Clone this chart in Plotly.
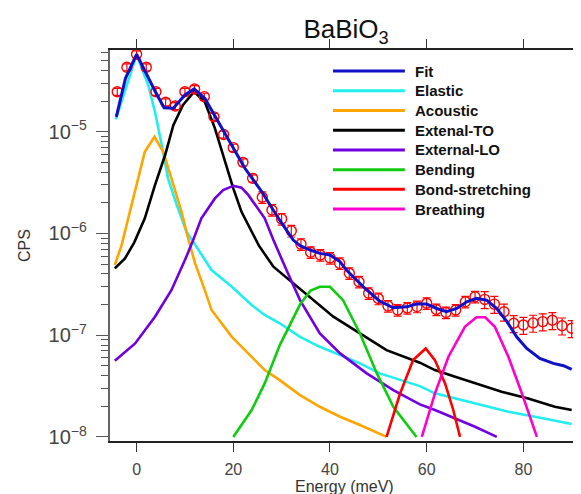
import plotly.graph_objects as go

# ---------------- data ----------------
data_E = [-4, -2, 0, 2, 4, 6, 8, 10, 12, 14, 16, 18, 20, 22, 24, 26, 28, 30, 32, 34,
          36, 38, 40, 42, 44, 46, 48, 50, 52, 54, 56, 58, 60, 62, 64, 66, 68, 70, 72, 74,
          76, 78, 80, 82, 84, 86, 88, 90]
data_cps = [2.47e-5, 4.30e-5, 5.77e-5, 4.30e-5, 2.47e-5, 1.95e-5, 1.79e-5, 2.47e-5, 2.63e-5, 2.21e-5,
            1.40e-5, 9.4e-6, 6.97e-6, 5.0e-6, 3.48e-6, 2.27e-6, 1.70e-6, 1.39e-6, 1.06e-6, 7.85e-7,
            6.53e-7, 6.14e-7, 5.75e-7, 5.08e-7, 4.06e-7, 3.35e-7, 2.58e-7, 2.29e-7, 1.94e-7, 1.77e-7,
            1.85e-7, 1.91e-7, 2.06e-7, 1.79e-7, 1.67e-7, 1.77e-7, 2.13e-7, 2.39e-7, 2.25e-7, 2.02e-7,
            1.70e-7, 1.31e-7, 1.26e-7, 1.32e-7, 1.36e-7, 1.40e-7, 1.24e-7, 1.17e-7]
data_err_pct = [8] * 15 + [13] * 23 + [19] * 10

fit_E = [-4.2, -2.3, 0, 1.8, 3.8, 5.7, 7.6, 10, 11.9, 14.1, 16.9, 19.7, 22.4, 25.9, 29.6, 32.4,
         33.8, 35.9, 37.9, 40, 42.1, 43.4, 44.8, 46.9, 50.3, 53.1, 55.9, 57.9, 60, 62.1, 64.1,
         66.2, 68.3, 70.3, 72.4, 74.5, 76.6, 78.6, 80.7, 83.4, 86.2, 88.3, 90]
fit_cps = [1.40e-5, 3.35e-5, 5.77e-5, 3.89e-5, 2.51e-5, 1.72e-5, 1.70e-5, 2.30e-5, 2.63e-5, 2.13e-5,
           1.25e-5, 7.40e-6, 4.37e-6, 2.57e-6, 1.35e-6, 8.61e-7, 7.59e-7, 6.87e-7, 6.37e-7, 6.14e-7,
           5.27e-7, 4.37e-7, 3.75e-7, 2.99e-7, 2.16e-7, 1.86e-7, 1.90e-7, 2.02e-7, 2.02e-7, 1.83e-7,
           1.70e-7, 1.83e-7, 2.13e-7, 2.30e-7, 2.21e-7, 1.83e-7, 1.36e-7, 9.64e-8, 7.41e-8, 5.92e-8,
           5.28e-8, 5.01e-8, 4.61e-8]

elastic_E = [-4.3, 0, 2.4, 3.8, 5.2, 6.5, 8.3, 10.3, 11.5, 15.5, 19.7, 23.8, 26.5, 29.6, 33.8,
             37.9, 42.1, 46.2, 50.3, 54.5, 58.6, 61.7, 65.9, 71.4, 76.9, 82.4, 90]
elastic_cps = [1.32e-5, 5.69e-5, 2.88e-5, 1.57e-5, 7.40e-6, 3.48e-6, 1.91e-6, 1.04e-6, 8.59e-7,
               4.37e-7, 2.99e-7, 1.98e-7, 1.58e-7, 1.31e-7, 9.64e-8, 7.69e-8, 6.37e-8, 5.28e-8,
               4.21e-8, 3.62e-8, 3.16e-8, 2.68e-8, 2.39e-8, 2.06e-8, 1.77e-8, 1.58e-8, 1.34e-8]

acoustic_E = [-4.5, -3.1, -1.4, 0.3, 1.7, 3.7, 5.5, 7.2, 9.3, 10.7, 12.1, 14.1, 15.5, 19.7, 23.1,
              26.5, 29.6, 33.8, 37.9, 42.1, 46.2, 51.7]
acoustic_cps = [4.90e-7, 7.69e-7, 1.63e-6, 3.48e-6, 6.35e-6, 8.91e-6, 6.35e-6, 3.48e-6, 1.63e-6,
                8.81e-7, 5.08e-7, 2.77e-7, 1.77e-7, 9.64e-8, 6.62e-8, 4.54e-8, 3.62e-8, 2.58e-8,
                1.98e-8, 1.58e-8, 1.31e-8, 1.0e-8]

to_E = [-4.5, -2.4, -0.5, 1.7, 3.8, 5.9, 7.6, 9.6, 11.9, 14.1, 16.2, 18.3, 20, 21.7, 23.8, 25.3,
        28.3, 32.4, 36.5, 40.7, 46.2, 51.7, 58.6, 61.7, 65.9, 70, 75.5, 81, 86.5, 90]
to_cps = [4.54e-7, 5.69e-7, 8.13e-7, 1.41e-6, 2.99e-6, 5.90e-6, 1.16e-5, 1.83e-5, 2.47e-5, 1.97e-5,
          1.08e-5, 5.07e-6, 2.77e-6, 1.63e-6, 1.04e-6, 7.59e-7, 4.71e-7, 3.23e-7, 2.21e-7, 1.52e-7,
          1.04e-7, 7.13e-8, 5.37e-8, 4.54e-8, 3.90e-8, 3.36e-8, 2.78e-8, 2.39e-8, 1.98e-8, 1.84e-8]

lo_E = [-4.5, -0.3, 3.8, 7.2, 10, 11.5, 13.4, 16.2, 17.9, 20, 21.7, 23.1, 26.5, 28.3, 31, 33.8,
        37.9, 42.1, 47.6, 53.1, 58.6, 61.7, 70, 74.5]
lo_cps = [5.60e-8, 8.30e-8, 1.52e-7, 2.77e-7, 5.47e-7, 8.13e-7, 1.41e-6, 2.21e-6, 2.67e-6, 2.94e-6,
          2.82e-6, 2.39e-6, 1.41e-6, 8.61e-7, 4.37e-7, 2.21e-7, 1.04e-7, 6.62e-8, 4.21e-8, 2.88e-8,
          2.09e-8, 1.84e-8, 1.26e-8, 1.0e-8]

bend_E = [20, 23.8, 26.5, 29.6, 33.8, 36, 37.9, 40, 42.7, 46.2, 49.7, 53.1, 57.9]
bend_cps = [1.0e-8, 1.84e-8, 3.36e-8, 7.94e-8, 2.0e-7, 2.75e-7, 2.99e-7, 2.99e-7, 2.21e-7, 1.04e-7,
            4.21e-8, 1.98e-8, 1.0e-8]

bond_E = [51.7, 54.5, 57.2, 59.8, 61.7, 63.8, 65.5, 66.9]
bond_cps = [1.0e-8, 2.67e-8, 5.69e-8, 7.41e-8, 5.69e-8, 3.36e-8, 1.84e-8, 1.0e-8]

breath_E = [59, 61.7, 64.5, 67.9, 70.3, 72.1, 74.1, 76.9, 79.7, 82.8]
breath_cps = [1.0e-8, 2.67e-8, 6.14e-8, 1.21e-7, 1.50e-7, 1.50e-7, 1.21e-7, 6.14e-8, 2.67e-8, 1.0e-8]

legend_labels = ["Fit", "Elastic", "Acoustic", "Extenal-TO", "External-LO", "Bending",
                 "Bond-stretching", "Breathing"]
x_ticks = [0, 20, 40, 60, 80]

# ---------------- styles ----------------
colors = {
    "Fit": "#1010c8", "Elastic": "#22eeee", "Acoustic": "#ffa500", "Extenal-TO": "#000000",
    "External-LO": "#7000e0", "Bending": "#10cc10", "Bond-stretching": "#ff0000",
    "Breathing": "#ff00cc",
}
FONT = "Liberation Sans, Arial, sans-serif"

fig = go.Figure()

curves = [
    ("Elastic", elastic_E, elastic_cps),
    ("Acoustic", acoustic_E, acoustic_cps),
    ("Extenal-TO", to_E, to_cps),
    ("External-LO", lo_E, lo_cps),
    ("Bending", bend_E, bend_cps),
    ("Bond-stretching", bond_E, bond_cps),
    ("Breathing", breath_E, breath_cps),
]
for name, xs, ys in curves:
    fig.add_trace(go.Scatter(x=xs, y=ys, mode="lines", name=name,
                             line=dict(color=colors[name], width=2.6), showlegend=False))

fig.add_trace(go.Scatter(
    x=data_E, y=data_cps, mode="markers", name="data", showlegend=False,
    marker=dict(symbol="circle-open", size=10, color="#ff0000", line=dict(width=1.4, color="#ff0000")),
    error_y=dict(type="data", array=[c * p / 100 for c, p in zip(data_cps, data_err_pct)],
                 color="#ff0000", thickness=1.2, width=4),
))
fig.add_trace(go.Scatter(x=fit_E, y=fit_cps, mode="lines", name="Fit",
                         line=dict(color=colors["Fit"], width=3), showlegend=False))

# manual legend (long line samples as in the original)
shapes = []
annotations = []
y0 = 0.946
step = 0.0504
for i, lab in enumerate(legend_labels):
    yy = y0 - i * step
    shapes.append(dict(type="line", xref="paper", yref="paper", x0=0.4765, x1=0.630, y0=yy, y1=yy,
                       line=dict(color=colors[lab], width=3)))
    annotations.append(dict(xref="paper", yref="paper", x=0.647, y=yy, xanchor="left", yanchor="middle",
                            text="<b>%s</b>" % lab, showarrow=False,
                            font=dict(family=FONT, size=15, color="#111")))

# x-axis title placed as in the original (near the bottom page edge)
annotations.append(dict(xref="paper", yref="paper", x=0.5, y=-0.090, xanchor="center", yanchor="top",
                        text="Energy (meV)", showarrow=False,
                        font=dict(family=FONT, size=16, color="#333")))

# The page places the figure 8 px in from the top-left corner, so the figure is
# 8 px smaller than the window and its margins are reduced by the same amount.
fig.update_layout(
    width=573, height=486,
    margin=dict(l=102, r=3, t=42, b=53),
    paper_bgcolor="white", plot_bgcolor="white",
    font=dict(family=FONT, size=16, color="#333"),
    title=dict(text="BaBiO<sub>3</sub>", x=0.59, xanchor="center", y=0.9755, yanchor="top",
               font=dict(family=FONT, size=26, color="#111")),
    shapes=shapes, annotations=annotations,
    xaxis=dict(range=[-5.5, 91.3], tickvals=x_ticks, ticks="outside", ticklen=9, tickwidth=1.2,
               tickcolor="#333", showline=True, linecolor="#222", linewidth=1.5, mirror="ticks",
               showgrid=False, zeroline=False, automargin=False, ticklabelstandoff=4,
               tickfont=dict(size=16, color="#444")),
    yaxis=dict(type="log", range=[-8.04, -4.197], dtick=1, exponentformat="power",
               ticks="outside", ticklen=12, tickwidth=1.2, tickcolor="#555",
               minor=dict(ticks="outside", ticklen=7, tickwidth=1.2, tickcolor="#555", dtick="D1",
                          showgrid=False),
               showline=True, linecolor="#666", linewidth=2, mirror="ticks",
               showgrid=False, zeroline=False, ticklabelstandoff=6, automargin=False,
               tickfont=dict(size=16, color="#444"),
               title=dict(text="CPS", standoff=14, font=dict(size=16, color="#333"))),
)

fig.write_html("out.html")
